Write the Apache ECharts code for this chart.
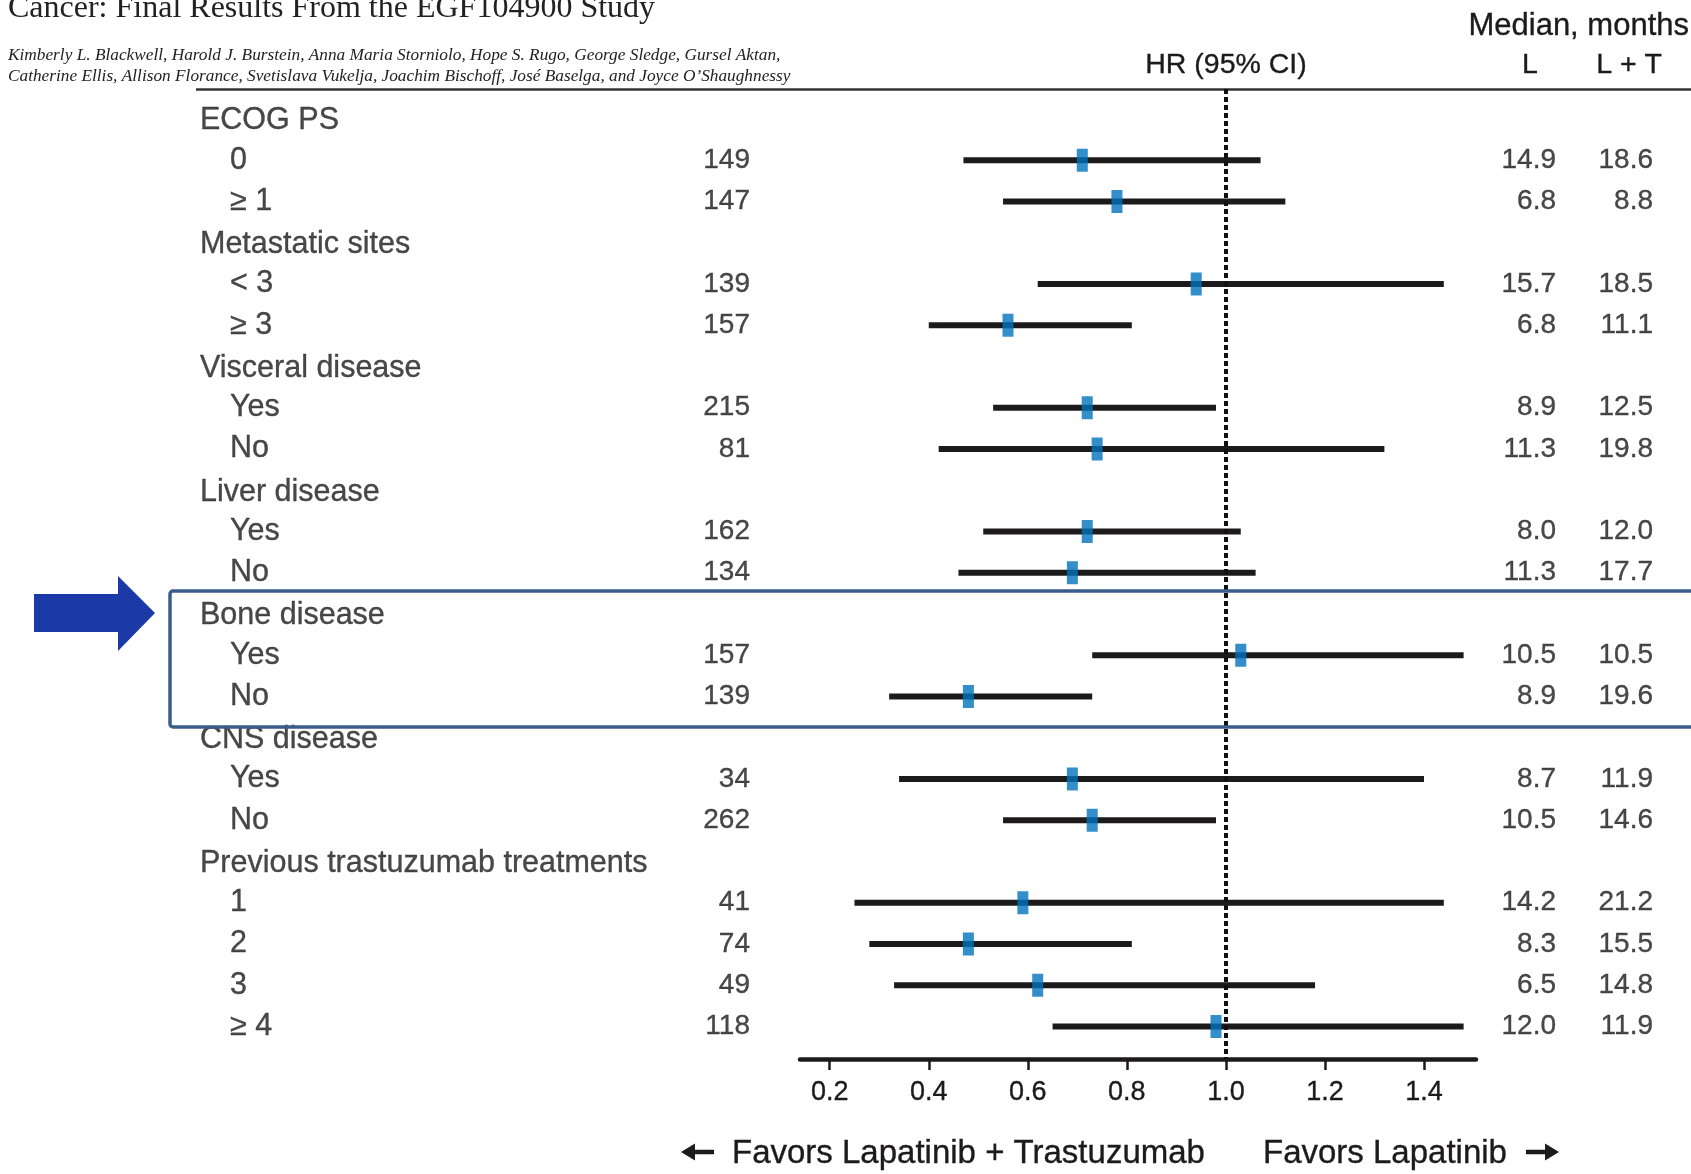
<!DOCTYPE html>
<html>
<head>
<meta charset="utf-8">
<title>Subgroup forest plot — progression-free survival</title>
<script src="https://cdn.jsdelivr.net/npm/echarts@6/dist/echarts.min.js"></script>
<style>
  html, body { margin: 0; padding: 0; background: #ffffff; }
  #chart { width: 1691px; height: 1174px; }
</style>
</head>
<body>
<div id="chart"></div>
<script>
// ---- data -------------------------------------------------------------
// One entry per table row; group headings have null in the numeric arrays.
const rowLabels = [
  'ECOG PS', '0', '\u2265 1',
  'Metastatic sites', '< 3', '\u2265 3',
  'Visceral disease', 'Yes', 'No',
  'Liver disease', 'Yes', 'No',
  'Bone disease', 'Yes', 'No',
  'CNS disease', 'Yes', 'No',
  'Previous trastuzumab treatments', '1', '2', '3', '\u2265 4'
];
const patients = [
  null, 149, 147,
  null, 139, 157,
  null, 215, 81,
  null, 162, 134,
  null, 157, 139,
  null, 34, 262,
  null, 41, 74, 49, 118
];
const hazardRatio = [
  null, 0.71, 0.78,
  null, 0.94, 0.56,
  null, 0.72, 0.74,
  null, 0.72, 0.69,
  null, 1.03, 0.48,
  null, 0.69, 0.73,
  null, 0.59, 0.48, 0.62, 0.98
];
const ciLower = [
  null, 0.47, 0.55,
  null, 0.62, 0.40,
  null, 0.53, 0.42,
  null, 0.51, 0.46,
  null, 0.73, 0.32,
  null, 0.34, 0.55,
  null, 0.25, 0.28, 0.33, 0.65
];
const ciUpper = [
  null, 1.07, 1.12,
  null, 1.44, 0.81,
  null, 0.98, 1.32,
  null, 1.03, 1.06,
  null, 1.48, 0.73,
  null, 1.40, 0.98,
  null, 1.44, 0.81, 1.18, 1.48
];
const medianL = [
  null, 14.9, 6.8,
  null, 15.7, 6.8,
  null, 8.9, 11.3,
  null, 8.0, 11.3,
  null, 10.5, 8.9,
  null, 8.7, 10.5,
  null, 14.2, 8.3, 6.5, 12.0
];
const medianLT = [
  null, 18.6, 8.8,
  null, 18.5, 11.1,
  null, 12.5, 19.8,
  null, 12.0, 17.7,
  null, 10.5, 19.6,
  null, 11.9, 14.6,
  null, 21.2, 15.5, 14.8, 11.9
];
const hrTicks = [0.2, 0.4, 0.6, 0.8, 1.0, 1.2, 1.4];

// ---- layout & style -----------------------------------------------------
const INK = '#1c1a1b';
const SANS = "'Liberation Sans', Arial, Helvetica, sans-serif";
const SERIF = "'Liberation Serif', 'Times New Roman', Times, serif";
const W = 1691;

const GRID_TOP = 89;
const GRID_BOTTOM = 115;           // distance from the HR axis line to the bottom edge
const ROW_MIN = -0.727;            // row index at the top rule
const ROW_MAX = 22.788;            // row index at the HR axis line

const COL = { group: 200, item: 230, n: 750, l: 1556, lt: 1653 };

const isGroup = patients.map(v => v === null);
const dataRows = rowLabels.map((_, i) => i).filter(i => !isGroup[i]);

const rowAxis = (gridIndex) => ({
  type: 'value', gridIndex, inverse: true, min: ROW_MIN, max: ROW_MAX,
  show: false
});

function textColumn(name, items, side, fontSize) {
  // items: [{x, row, text, dy}]; side 'right' = left-aligned, 'left' = right-aligned
  return {
    name, type: 'scatter', xAxisIndex: 1, yAxisIndex: 1,
    symbolSize: 0, silent: true, z: 4,
    data: items.map(d => ({
      name: d.text, value: [d.x, d.row],
      label: d.dy ? { offset: [0, d.dy] } : undefined
    })),
    label: {
      show: true, position: side, distance: 0,
      formatter: p => p.name,
      color: INK, fontFamily: SANS, fontSize,
      textBorderColor: INK, textBorderWidth: 0.35
    }
  };
}

const labelItems = rowLabels.map((t, i) => ({
  x: isGroup[i] ? COL.group : COL.item, row: i, text: t, dy: isGroup[i] ? 2 : 0
}));
const nItems = dataRows.map(i => ({ x: COL.n, row: i, text: String(patients[i]) }));
const lItems = dataRows.map(i => ({ x: COL.l, row: i, text: medianL[i].toFixed(1) }));
const ltItems = dataRows.map(i => ({ x: COL.lt, row: i, text: medianLT[i].toFixed(1) }));

// solid arrow glyph pointing left (dir = -1) or right (dir = 1) from its tip
function arrowShape(tipX, cy, dir) {
  const head = 14, halfHead = 8.5, len = 33, halfShaft = 2.3;
  const hx = tipX - dir * head, tx = tipX - dir * len;
  return [[tipX, cy], [hx, cy - halfHead], [hx, cy - halfShaft], [tx, cy - halfShaft],
          [tx, cy + halfShaft], [hx, cy + halfShaft], [hx, cy + halfHead]];
}

const sansText = (x, y, text, size, align) => ({
  type: 'text', x, y,
  style: {
    text, font: size + 'px ' + SANS, fill: INK, align, verticalAlign: 'middle',
    stroke: INK, lineWidth: 0.35
  }
});

const chart = echarts.init(document.getElementById('chart'), null, { renderer: 'canvas' });

const option = {
  backgroundColor: '#ffffff',
  animation: false,
  grid: [
    // forest plot area: HR scale 0.14 – 1.505
    { left: 800, right: W - 1476, top: GRID_TOP, bottom: GRID_BOTTOM, outerBoundsMode: 'none' },
    // table text area, x measured across the full width
    { left: 0, right: 0, top: GRID_TOP, bottom: GRID_BOTTOM, outerBoundsMode: 'none' }
  ],
  xAxis: [
    {
      type: 'value', gridIndex: 0, min: 0.14, max: 1.505,
      axisLine: { show: true, onZero: false, lineStyle: { color: INK, width: 4.5 } },
      axisTick: { show: true, customValues: hrTicks, length: 11, lineStyle: { color: INK, width: 2.5 } },
      axisLabel: {
        show: true, customValues: hrTicks, margin: 20,
        formatter: v => v.toFixed(1),
        color: INK, fontFamily: SANS, fontSize: 27,
        textBorderColor: INK, textBorderWidth: 0.35
      },
      splitLine: { show: false }
    },
    { type: 'value', gridIndex: 1, min: 0, max: W, show: false }
  ],
  yAxis: [rowAxis(0), rowAxis(1)],
  series: [
    {
      name: '95% CI', type: 'custom', xAxisIndex: 0, yAxisIndex: 0,
      data: dataRows.map(i => [ciLower[i], ciUpper[i], i]),
      encode: { x: [0, 1], y: 2 },
      renderItem: (params, api) => {
        const a = api.coord([api.value(0), api.value(2)]);
        const b = api.coord([api.value(1), api.value(2)]);
        return {
          type: 'line',
          shape: { x1: a[0], y1: a[1], x2: b[0], y2: b[1] },
          style: { stroke: INK, lineWidth: 6, lineCap: 'butt' }
        };
      },
      markLine: {
        silent: true, symbol: 'none', label: { show: false },
        lineStyle: { type: [5, 3], width: 4, color: '#111111' },
        data: [{ xAxis: 1 }]
      },
      z: 2
    },
    {
      name: 'HR', type: 'scatter', xAxisIndex: 0, yAxisIndex: 0,
      data: dataRows.map(i => [hazardRatio[i], i]),
      symbol: 'rect', symbolSize: [11, 23],
      itemStyle: { color: '#0072bc' },
      silent: true, z: 5
    },
    textColumn('Subgroup', labelItems, 'right', 30.5),
    textColumn('No. of patients', nItems, 'left', 28),
    textColumn('Median L', lItems, 'left', 28),
    textColumn('Median L + T', ltItems, 'left', 28)
  ],
  graphic: [
    {
      type: 'text', left: 8, top: -7,
      style: { text: 'Cancer: Final Results From the EGF104900 Study', font: '32px ' + SERIF, fill: '#222222' }
    },
    {
      type: 'text', left: 8, top: 45,
      style: {
        text: 'Kimberly L. Blackwell, Harold J. Burstein, Anna Maria Storniolo, Hope S. Rugo, George Sledge, Gursel Aktan,\n' +
              'Catherine Ellis, Allison Florance, Svetislava Vukelja, Joachim Bischoff, Jos\u00e9 Baselga, and Joyce O\u2019Shaughnessy',
        font: 'italic 17.3px ' + SERIF, fill: '#222222', lineHeight: 21
      }
    },
    // top rule of the table
    {
      type: 'line', silent: true,
      shape: { x1: 196, y1: 89.5, x2: W, y2: 89.5 },
      style: { stroke: '#333333', lineWidth: 2.5 }
    },
    sansText(1226, 65, 'HR (95% CI)', 28.5, 'center'),
    sansText(1689, 26, 'Median, months', 31, 'right'),
    sansText(1530, 65, 'L', 28.5, 'center'),
    sansText(1629, 65, 'L + T', 28.5, 'center'),
    // direction captions under the HR axis
    {
      type: 'polygon', silent: true,
      shape: { points: arrowShape(681, 1152, -1) },
      style: { fill: INK }
    },
    sansText(732, 1154, 'Favors Lapatinib + Trastuzumab', 33, 'left'),
    sansText(1263, 1154, 'Favors Lapatinib', 33, 'left'),
    {
      type: 'polygon', silent: true,
      shape: { points: arrowShape(1559, 1152, 1) },
      style: { fill: INK }
    },
    // highlight frame around the bone-disease subgroup
    {
      type: 'rect', silent: true, z: 10,
      shape: { x: 170, y: 591, width: 1560, height: 136, r: 3 },
      style: { fill: 'none', stroke: '#3b5d8c', lineWidth: 3.5 }
    },
    // pointer arrow
    {
      type: 'polygon', silent: true, z: 10,
      shape: { points: [[34, 594], [118, 594], [118, 576], [155, 613], [118, 651], [118, 632], [34, 632]] },
      style: { fill: '#1b3aa8' }
    }
  ]
};

chart.setOption(option);
</script>
</body>
</html>
